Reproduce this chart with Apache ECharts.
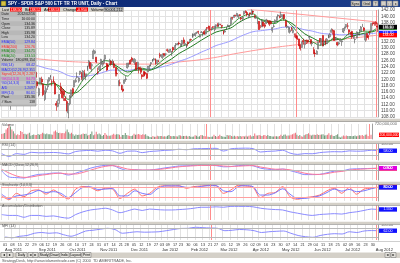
<!DOCTYPE html>
<html>
<head>
<meta charset="utf-8">
<script src="https://cdn.jsdelivr.net/npm/echarts@6/dist/echarts.min.js"></script>
<style>
html, body { margin: 0; padding: 0; background: #fff; }
#chart { width: 400px; height: 263px; }
</style>
</head>
<body>
<div id="chart"></div>
<script>
// SPY daily, Aug 2011 - Aug 2012

var holidays = ['2011-09-05', '2011-11-24', '2011-12-26', '2012-01-02', '2012-01-16',
    '2012-02-20', '2012-04-06', '2012-05-28', '2012-07-04'];

var opens = [
    130.3, 128.5, 125.2, 124.9, 121.3, 116.9, 113.1, 116.0, 113.4, 118.8, 119.4, 119.7, 120.2, 116.7, 113.0, 114.8, 113.4, 115.8, 118.0, 114.9, 118.8, 120.4, 122.0,
    122.2, 119.2, 115.0, 118.6, 120.0, 118.4, 113.6, 115.9, 117.6, 119.4, 120.6, 119.2, 119.9, 118.8, 112.3, 111.4, 113.2, 117.6, 116.3, 116.3, 113.9,
    112.9, 109.3, 112.2, 114.4, 117.0, 117.6, 119.2, 120.6, 119.4, 121.7, 121.9, 120.0, 122.2, 121.0, 123.0, 124.1, 125.3, 124.4, 126.5, 128.3, 127.0,
    122.1, 123.0, 124.6, 125.0, 125.2, 126.4, 124.9, 124.4, 124.9, 125.7, 124.7, 124.9, 123.7, 121.8, 119.0, 118.8, 118.1, 116.9, 118.7, 119.9, 123.6,
    124.8, 126.0, 126.7, 125.6, 125.5, 125.3, 123.6, 123.8, 123.4, 121.4, 122.4, 122.2, 121.8, 122.3, 124.2, 124.9, 125.7, 126.2, 126.5, 125.0, 125.8,
    127.8, 127.2, 127.0, 128.2, 128.0, 129.4, 128.5, 129.4, 128.6, 130.1, 129.3, 130.9, 131.2, 131.5, 130.6, 131.1, 132.5, 131.0, 130.1, 131.8,
    132.3, 132.6, 133.4, 133.9, 134.0, 134.7, 135.2, 133.4, 134.9, 134.3, 135.2, 134.4, 136.4, 136.9, 135.9, 135.8, 136.7, 135.8, 136.8, 137.4,
    137.3, 137.6, 137.1, 135.3, 135.0, 136.0, 137.0, 136.9, 137.6, 139.6, 139.6, 140.4, 140.2, 139.8, 140.5, 139.5, 139.3, 140.7, 141.6, 141.2, 139.6, 141.1,
    140.6, 141.6, 140.2, 139.4, 138.0, 138.4, 136.8, 136.6, 138.2, 137.3, 137.7, 138.6, 138.2, 138.3, 135.5, 136.8, 138.1, 138.7, 140.1, 139.9,
    139.8, 139.7, 140.6, 138.6, 136.5, 136.1, 135.0, 136.5, 134.9, 134.3, 134.0, 133.6, 132.8, 130.8, 130.1, 132.3, 131.0, 132.4, 132.4, 133.3, 132.6, 131.3,
    129.4, 128.3, 127.9, 129.6, 132.9, 131.0, 133.9, 131.4, 131.8, 131.3, 133.1, 133.5, 134.9, 135.5, 135.4, 132.6, 131.7, 131.2, 132.1, 131.9, 135.0,
    136.2, 136.6, 136.9, 135.7, 134.9, 135.2, 133.3, 132.6, 133.1, 134.4, 135.2, 135.3, 136.9, 136.3, 132.5, 134.5, 133.6, 135.1, 135.3, 137.7, 138.0,
    138.1, 136.9
];
var highs = [
    131.0, 128.8, 126.6, 125.0, 121.9, 117.8, 117.6, 116.8, 118.7, 120.0, 121.0, 120.5, 121.3, 116.8, 116.5, 115.2, 116.0, 117.8, 118.6, 117.9, 121.2, 122.1, 123.1,
    123.2, 119.5, 117.3, 120.5, 120.8, 118.7, 116.5, 117.8, 119.9, 120.6, 121.4, 120.0, 120.9, 119.4, 113.1, 113.6, 115.3, 118.9, 117.0, 116.8, 114.6,
    113.4, 112.4, 115.0, 116.7, 117.3, 119.6, 120.3, 122.2, 120.6, 122.6, 122.3, 122.9, 123.0, 121.7, 124.3, 126.1, 125.3, 125.1, 129.5, 129.2, 127.1,
    123.7, 124.4, 126.5, 125.6, 126.2, 127.8, 125.2, 124.6, 126.5, 126.0, 126.3, 125.8, 123.9, 122.2, 119.7, 119.9, 118.3, 118.2, 120.0, 121.1, 125.2,
    125.3, 126.4, 127.1, 126.6, 126.7, 125.5, 125.6, 123.9, 124.0, 121.6, 122.6, 122.5, 122.0, 124.2, 124.6, 125.4, 126.4, 126.8, 126.6, 126.2, 126.2,
    128.4, 127.9, 128.2, 128.2, 128.2, 129.7, 129.4, 129.6, 129.0, 130.3, 130.7, 131.5, 131.5, 132.0, 131.4, 132.5, 133.3, 131.7, 131.1, 132.0,
    132.8, 132.9, 134.6, 134.4, 134.9, 135.1, 135.4, 134.4, 135.3, 135.0, 135.6, 136.0, 136.5, 137.0, 136.3, 136.5, 136.8, 137.0, 137.4, 137.9,
    138.0, 137.6, 137.2, 135.6, 135.7, 136.6, 137.4, 137.1, 139.6, 139.8, 140.4, 140.4, 141.0, 140.5, 140.7, 139.7, 139.8, 141.6, 141.9, 141.3, 140.6, 141.1,
    142.2, 141.7, 140.5, 140.0, 139.3, 138.5, 137.2, 138.9, 138.2, 137.9, 139.2, 138.9, 138.8, 138.7, 136.6, 137.5, 139.0, 139.9, 140.6, 140.3,
    141.5, 140.6, 140.6, 138.6, 137.3, 136.8, 136.4, 136.6, 136.3, 134.6, 134.6, 133.9, 132.9, 131.1, 132.0, 132.9, 132.3, 132.6, 132.5, 133.8, 132.7, 132.0,
    130.2, 128.7, 129.2, 132.0, 133.1, 133.1, 134.0, 132.2, 132.9, 133.1, 134.2, 134.6, 136.2, 136.0, 135.5, 133.4, 131.9, 131.9, 133.0, 132.4, 136.3,
    136.7, 137.5, 137.9, 135.8, 135.0, 135.4, 134.0, 133.0, 135.2, 134.9, 135.9, 136.9, 137.6, 136.6, 134.4, 134.6, 134.1, 135.4, 137.8, 138.1, 138.1,
    138.4, 137.9
];
var lows = [
    127.0, 125.0, 123.6, 119.9, 116.6, 112.1, 110.3, 112.4, 113.0, 117.2, 118.9, 117.7, 118.6, 113.8, 112.0, 112.0, 113.1, 115.1, 115.7, 113.7, 118.8, 119.9, 121.2,
    120.4, 117.1, 114.5, 118.4, 118.4, 114.6, 113.1, 115.3, 116.6, 118.9, 119.8, 117.8, 118.8, 115.2, 110.0, 111.1, 112.2, 115.3, 113.9, 113.1, 113.1,
    109.8, 107.4, 111.7, 114.1, 114.8, 117.4, 118.9, 120.2, 118.9, 121.3, 119.7, 119.5, 120.6, 119.7, 122.6, 124.0, 123.1, 122.4, 126.4, 128.0, 125.1,
    121.5, 122.6, 122.6, 124.0, 124.6, 125.9, 122.6, 122.9, 124.8, 124.3, 124.4, 123.5, 120.9, 120.9, 117.8, 117.8, 116.5, 115.9, 118.6, 119.2, 123.4,
    123.8, 124.8, 125.4, 125.2, 124.6, 122.9, 123.5, 121.8, 121.6, 120.0, 120.7, 120.9, 120.0, 122.2, 122.8, 124.2, 125.4, 125.9, 124.6, 124.9, 125.4,
    126.7, 126.7, 126.4, 127.2, 127.4, 128.6, 128.4, 128.5, 127.4, 128.7, 129.2, 130.5, 130.8, 130.8, 130.2, 130.6, 131.0, 130.8, 129.8, 130.5,
    131.6, 132.1, 133.1, 133.6, 133.5, 134.3, 134.3, 133.3, 134.7, 133.6, 134.1, 134.2, 135.8, 135.5, 135.4, 135.5, 136.3, 135.2, 136.4, 136.6,
    136.6, 137.1, 136.2, 134.2, 134.8, 135.9, 136.6, 136.4, 137.1, 138.9, 139.6, 139.9, 140.0, 139.4, 140.0, 138.7, 138.5, 140.5, 141.0, 140.0, 139.4, 140.1,
    140.4, 140.6, 139.3, 139.2, 137.5, 135.7, 136.2, 136.6, 136.8, 136.3, 137.6, 138.1, 136.9, 137.4, 134.8, 136.4, 137.9, 138.4, 139.7, 139.4,
    139.6, 139.5, 138.8, 136.6, 136.2, 134.8, 134.5, 135.3, 134.6, 133.3, 133.0, 132.5, 130.6, 129.1, 130.0, 131.0, 129.8, 131.2, 131.5, 132.5, 131.1, 130.5,
    128.0, 127.1, 127.9, 129.6, 131.6, 130.7, 130.5, 130.5, 130.8, 131.2, 133.0, 133.2, 134.8, 134.2, 132.2, 132.3, 130.5, 130.8, 131.9, 130.6, 134.7,
    135.3, 136.6, 136.0, 134.2, 133.9, 132.8, 132.8, 131.4, 133.0, 134.0, 133.9, 135.1, 136.6, 135.2, 131.9, 132.3, 132.6, 134.1, 135.3, 137.0, 137.0,
    137.0, 135.0
];
var closes = [
    128.8, 125.5, 126.2, 120.0, 119.9, 112.3, 117.5, 112.6, 117.3, 118.5, 120.6, 119.6, 119.6, 114.2, 112.6, 112.6, 116.0, 117.6, 115.9, 117.7, 121.2, 121.5, 122.1,
    120.6, 117.9, 117.0, 120.4, 119.1, 115.1, 116.0, 117.0, 118.5, 120.5, 121.2, 119.2, 119.0, 115.3, 111.7, 112.4, 115.1, 116.4, 114.1, 115.1, 113.2,
    109.9, 112.3, 114.5, 116.6, 115.6, 119.6, 119.6, 120.8, 120.4, 122.6, 120.3, 122.6, 121.1, 121.7, 124.2, 125.8, 123.4, 124.6, 129.0, 128.9, 125.5,
    122.0, 124.0, 126.3, 125.5, 126.1, 127.6, 122.9, 124.0, 126.0, 124.9, 125.6, 123.7, 121.8, 121.7, 119.3, 118.8, 116.6, 116.3, 119.8, 120.1, 125.1,
    124.9, 124.9, 126.0, 126.1, 126.3, 123.1, 125.3, 123.2, 122.2, 120.8, 121.2, 121.6, 120.3, 124.2, 124.4, 125.3, 126.4, 126.5, 124.9, 126.1, 125.5,
    127.5, 127.7, 128.0, 127.7, 128.0, 129.1, 129.2, 129.5, 128.8, 129.3, 130.7, 131.3, 131.4, 131.3, 131.2, 132.3, 131.6, 131.4, 131.0, 131.3,
    132.4, 132.5, 134.4, 134.3, 134.6, 134.9, 135.1, 134.2, 135.0, 134.9, 134.4, 135.9, 136.2, 136.2, 135.8, 136.3, 136.5, 136.7, 137.3, 136.9,
    137.6, 137.3, 136.8, 134.3, 135.3, 136.5, 137.0, 137.0, 139.5, 139.5, 140.3, 140.3, 140.9, 140.4, 140.2, 139.2, 139.7, 141.6, 141.2, 140.5, 140.3, 140.8,
    141.8, 141.3, 139.9, 139.8, 138.2, 135.8, 136.7, 138.7, 136.9, 136.8, 138.9, 138.3, 137.5, 137.7, 136.4, 136.9, 138.8, 139.7, 140.4, 139.7,
    140.6, 140.4, 139.3, 136.9, 136.9, 136.4, 135.6, 135.8, 135.6, 134.1, 133.3, 132.8, 130.6, 129.7, 131.9, 131.9, 132.1, 132.2, 131.8, 133.6, 131.5, 131.5,
    128.2, 128.1, 128.9, 131.9, 131.8, 132.9, 130.6, 132.1, 131.2, 132.7, 134.1, 134.3, 135.6, 135.4, 132.3, 133.1, 130.9, 131.6, 132.8, 132.2, 136.1,
    136.5, 137.4, 136.9, 134.9, 134.6, 133.4, 133.6, 132.7, 135.0, 134.6, 135.6, 136.6, 137.0, 135.5, 134.3, 133.2, 133.3, 135.0, 137.7, 137.6, 137.7,
    137.6, 136.6
];
// volume, millions of shares
var volumes = [
    246, 270, 289, 460, 525, 717, 604, 460, 376, 260, 180, 225, 196, 388, 340, 246, 250, 222, 255, 300, 160, 195, 215,
    190, 190, 240, 205, 235, 300, 260, 230, 260, 225, 230, 220, 210, 360, 410, 330, 290, 300, 280, 290, 275,
    360, 460, 320, 250, 300, 230, 160, 220, 190, 200, 210, 230, 260, 240, 250, 170, 190, 240, 360, 185, 220,
    350, 230, 270, 215, 150, 195, 290, 200, 160, 160, 165, 200, 250, 200, 230, 225, 210, 110, 190, 190, 285,
    190, 165, 150, 140, 170, 250, 200, 215, 240, 220, 190, 230, 200, 230, 160, 135, 95, 80, 145, 110, 105,
    160, 130, 140, 150, 115, 135, 115, 160, 190, 150, 130, 145, 130, 130, 120, 175, 170, 130, 145, 150,
    160, 120, 150, 105, 110, 125, 175, 160, 110, 135, 190, 180, 150, 130, 120, 110, 100, 110, 115, 210,
    140, 110, 140, 210, 150, 120, 110, 100, 190, 170, 185, 150, 125, 155, 125, 140, 115, 150, 120, 140, 125, 160,
    120, 155, 175, 115, 140, 270, 170, 165, 190, 170, 145, 175, 190, 150, 190, 145, 150, 115, 120, 130,
    130, 120, 150, 210, 140, 200, 215, 155, 170, 170, 210, 230, 265, 300, 200, 150, 190, 135, 110, 180, 220, 245,
    280, 210, 170, 210, 210, 190, 230, 190, 200, 220, 230, 170, 175, 210, 280, 185, 200, 150, 150, 190, 225,
    110, 70, 120, 165, 130, 165, 150, 145, 140, 130, 140, 165, 130, 160, 185, 170, 190, 150, 200, 215, 150,
    150, 200
];

// indicator lines, sampled once a week (bar index -> value)
var sampleIdx = [0, 5, 10, 15, 20, 25, 30, 35, 40, 45, 50, 55, 60, 65, 70, 75, 80, 85, 90, 95,
    100, 105, 110, 115, 120, 125, 130, 135, 140, 145, 150, 155, 160, 165, 170, 175, 180, 185, 190, 195,
    200, 205, 210, 215, 220, 225, 230, 235, 240, 245, 250, 254];
var ema10 = [130.5, 123.5, 119.5, 116.3, 117.3, 119.0, 118.2, 118.8, 116.3, 113.6, 116.2, 119.8, 122.3, 124.6, 125.9, 125.3, 122.4, 121.0, 123.2, 123.5,
    122.9, 124.5, 126.5, 128.1, 130.1, 131.0, 132.6, 134.1, 135.3, 136.3, 136.4, 137.1, 139.2, 140.4, 140.8, 138.9, 138.0, 137.7, 139.3, 137.6,
    134.9, 132.3, 131.9, 130.8, 131.4, 133.2, 132.6, 134.5, 134.6, 135.3, 135.2, 136.4];
var ema20 = [131.5, 127.0, 123.5, 119.5, 118.5, 118.6, 118.3, 118.6, 117.5, 115.6, 115.7, 117.5, 119.8, 122.2, 124.0, 124.8, 123.5, 122.3, 122.8, 123.0,
    122.9, 123.7, 125.1, 126.5, 128.2, 129.5, 130.9, 132.4, 133.8, 135.0, 135.6, 136.3, 137.9, 139.2, 139.9, 139.0, 138.5, 138.2, 138.8, 138.1,
    136.4, 134.4, 133.2, 132.1, 132.0, 132.7, 132.6, 133.5, 134.0, 134.6, 135.0, 135.6];
var ema50 = [130.8, 128.8, 127.4, 125.7, 124.8, 124.2, 123.5, 123.0, 122.3, 121.2, 120.8, 120.9, 121.2, 121.7, 122.4, 122.9, 122.9, 122.8, 123.1, 123.2,
    123.3, 123.6, 124.1, 124.8, 125.7, 126.5, 127.5, 128.6, 129.6, 130.7, 131.4, 132.2, 133.3, 134.3, 135.1, 135.4, 135.7, 136.0, 136.5, 136.6,
    136.3, 135.7, 135.3, 134.7, 134.4, 134.3, 134.1, 134.2, 134.2, 134.3, 134.5, 134.7];
var ema200Idx = [0, 20, 40, 60, 80, 100, 120, 140, 160, 180, 200, 220, 240, 254];
var ema200 = [127.0, 126.6, 125.8, 125.3, 124.8, 124.8, 125.5, 126.6, 128.3, 129.8, 131.0, 132.2, 133.2, 134.0];
var trendIdx = [166, 254];
var trendVal = [142.3, 138.2];

var rsi = [40, 22, 40, 35, 48, 45, 46, 47, 44, 38, 53, 58, 60, 55, 61, 57, 42, 55, 56, 46,
    53, 56, 60, 62, 67, 64, 70, 71, 72, 73, 56, 70, 73, 74, 71, 50, 54, 56, 61, 43,
    35, 40, 39, 46, 50, 52, 51, 57, 55, 56, 61, 58];
var macd = [-0.5, -3.5, -3.8, -4.0, -3.0, -2.2, -2.0, -1.5, -1.6, -2.5, -1.6, -0.4, 0.9, 1.8, 2.3, 2.2, 0.8, -0.2, 0.2, -0.1,
    0.0, 0.4, 1.0, 1.5, 2.0, 2.1, 2.3, 2.4, 2.3, 2.2, 1.6, 1.7, 2.2, 2.3, 2.1, 0.9, 0.4, 0.1, 0.5, -0.3,
    -1.3, -2.3, -2.3, -2.2, -1.4, -0.6, -0.5, 0.4, 0.6, 0.7, 0.8, 0.9];
var macdSignal = [0.3, -1.5, -3.0, -3.7, -3.5, -2.8, -2.3, -1.8, -1.6, -2.0, -2.0, -1.2, -0.1, 1.0, 1.8, 2.2, 1.5, 0.5, 0.1, 0.0,
    0.0, 0.2, 0.6, 1.1, 1.6, 1.9, 2.1, 2.3, 2.3, 2.3, 2.0, 1.8, 1.9, 2.1, 2.2, 1.5, 0.9, 0.4, 0.4, 0.1,
    -0.7, -1.6, -2.1, -2.2, -1.8, -1.1, -0.7, -0.1, 0.3, 0.5, 0.7, 0.8];
var stochK = [30, 8, 45, 25, 60, 65, 40, 65, 35, 12, 70, 85, 80, 60, 75, 70, 15, 45, 70, 30,
    45, 80, 90, 88, 90, 75, 85, 88, 92, 90, 45, 65, 92, 88, 80, 20, 45, 50, 85, 25,
    10, 20, 25, 35, 60, 75, 45, 80, 40, 70, 75, 82];
var stochD = [40, 15, 30, 35, 45, 62, 50, 55, 45, 20, 50, 80, 83, 68, 70, 73, 30, 30, 60, 45,
    38, 70, 88, 89, 88, 80, 80, 86, 90, 90, 60, 55, 85, 90, 84, 35, 35, 48, 72, 40,
    15, 15, 22, 30, 50, 70, 58, 68, 55, 60, 72, 80];
// accumulation/distribution, billions of shares
var accDist = [0.80, 0.67, 0.67, 0.40, 0.67, 0.67, 0.53, 0.60, 0.40, 0.27, 0.80, 1.20, 1.47, 1.60, 1.73, 1.47, 1.07, 1.33, 1.60, 1.40,
    1.60, 1.53, 1.47, 1.47, 1.53, 1.60, 1.73, 1.87, 1.87, 1.93, 1.87, 2.00, 2.00, 2.00, 1.93, 1.73, 1.60, 1.53, 1.47, 1.20,
    1.00, 0.80, 0.67, 0.80, 0.87, 0.93, 0.87, 1.07, 1.20, 1.40, 1.60, 1.55];
var mfi = [20, 15, 25, 30, 45, 50, 45, 48, 35, 25, 40, 60, 65, 72, 78, 70, 45, 50, 55, 52,
    53, 55, 62, 70, 77, 78, 85, 82, 80, 78, 62, 65, 70, 68, 62, 50, 55, 58, 60, 45,
    30, 22, 18, 30, 38, 42, 40, 55, 50, 60, 63, 62];

var priceTicks = { min: 108, max: 142, step: 2 };
var markBars = [141, 253];
var priceOnlyMarkBar = 199;

// trading days
var dates = [];
(function () {
    var d = new Date(Date.UTC(2011, 7, 1));
    var end = Date.UTC(2012, 7, 2);
    while (d.getTime() <= end) {
        var s = d.toISOString().slice(0, 10);
        var wd = d.getUTCDay();
        if (wd > 0 && wd < 6 && holidays.indexOf(s) < 0) dates.push(s);
        d.setUTCDate(d.getUTCDate() + 1);
    }
})();

var monthNames = ['Jan', 'Feb', 'Mar', 'Apr', 'May', 'Jun', 'Jul', 'Aug', 'Sep', 'Oct', 'Nov', 'Dec'];
var weekStart = dates.map(function (s, i) {
    if (i === 0) return true;
    return new Date(s).getUTCDay() <= new Date(dates[i - 1]).getUTCDay();
});
var monthStart = dates.map(function (s, i) {
    return i === 0 || s.slice(0, 7) !== dates[i - 1].slice(0, 7);
});

function pairs(xs, ys) {
    return xs.map(function (x, i) { return [x, ys[i]]; });
}

var FONT = 'Liberation Sans';
var panels = [
    { top: 10, height: 107 },  // price
    { top: 124, height: 15 },  // volume
    { top: 144, height: 16 },  // rsi
    { top: 164, height: 16 },  // macd
    { top: 184, height: 17 },  // stochastic
    { top: 205, height: 15 },  // a/d
    { top: 225, height: 15 }   // mfi
];

var chart = echarts.init(document.getElementById('chart'));

var xAxes = panels.map(function (p, i) {
    return {
        type: 'category', gridIndex: i, data: dates, boundaryGap: true, position: 'bottom',
        axisLine: { show: false }, axisTick: { show: false },
        axisLabel: {
            show: i === 6, fontSize: 3.8, color: '#333', margin: 3, fontFamily: FONT,
            interval: function (idx) { return weekStart[idx]; },
            formatter: function (v) { return v.slice(8, 10); }
        },
        splitLine: {
            show: true,
            interval: function (idx) { return weekStart[idx]; },
            lineStyle: { color: '#e2e2e2', width: 1 }
        }
    };
});
xAxes.push({
    type: 'category', gridIndex: 6, data: dates, boundaryGap: true, position: 'bottom', offset: 5,
    axisLine: { show: false }, axisTick: { show: false }, splitLine: { show: false },
    axisLabel: {
        show: true, fontSize: 4, color: '#333', margin: 3, align: 'left', fontFamily: FONT,
        interval: function (idx) { return monthStart[idx]; },
        formatter: function (v) { return monthNames[+v.slice(5, 7) - 1] + ' ' + v.slice(0, 4); }
    }
});

function subAxis(i, min, max, topLabel) {
    return {
        type: 'value', gridIndex: i, position: 'right', min: min, max: max, interval: max - min,
        axisLine: { show: true, lineStyle: { color: '#a0a0a0' } }, axisTick: { show: false },
        splitLine: { show: false },
        axisLabel: {
            show: !!topLabel, fontSize: 4, color: '#666', margin: 3, fontFamily: FONT,
            formatter: function (v) { return v === max ? topLabel : ''; }
        }
    };
}

var yAxes = [{
    type: 'value', gridIndex: 0, position: 'right',
    min: priceTicks.min, max: priceTicks.max, interval: priceTicks.step,
    axisLine: { show: true, lineStyle: { color: '#a0a0a0' } }, axisTick: { show: false },
    splitLine: { show: true, lineStyle: { color: '#e2e2e2' } },
    axisLabel: { fontSize: 4.6, color: '#444', margin: 3, fontFamily: FONT, formatter: function (v) { return v.toFixed(2); } }
},
subAxis(1, 0, 720, '720,000,000'),
subAxis(2, 0, 100, '100.00'),
subAxis(3, -5, 3, ''),
subAxis(4, 0, 100, '100.00'),
subAxis(5, 0, 2.2, ''),
subAxis(6, 0, 100, '100.00')];

function vMarks(extraBars, levels, levelColor) {
    var data = [];
    markBars.concat(extraBars).forEach(function (b) {
        data.push({ xAxis: dates[b], lineStyle: { color: '#ff8c8c', type: 'solid', width: 1 } });
    });
    levels.forEach(function (v) {
        data.push({ yAxis: v, lineStyle: { color: levelColor, type: 'solid', width: 1 } });
    });
    return { symbol: 'none', silent: true, label: { show: false }, data: data, animation: false };
}

function line(name, x, y, xs, ys, color, extra) {
    var s = {
        name: name, type: 'line', xAxisIndex: x, yAxisIndex: y, data: pairs(xs, ys),
        symbol: 'none', smooth: 0.3, lineStyle: { color: color, width: 1 }, itemStyle: { color: color },
        silent: true, z: 3
    };
    for (var k in extra) s[k] = extra[k];
    return s;
}

var candles = dates.map(function (d, i) { return [opens[i], closes[i], lows[i], highs[i]]; });
var volBars = volumes.map(function (v, i) {
    return { value: v, itemStyle: { color: closes[i] >= opens[i] ? '#6f9a78' : '#f0707c' } };
});

var series = [
    line('EMA(200)', 0, 0, ema200Idx, ema200, '#ff9a9a', { smooth: 0.5 }),
    line('EMA(50)', 0, 0, sampleIdx, ema50, '#9a9aff', { smooth: 0.5 }),
    line('EMA(20)', 0, 0, sampleIdx, ema20, '#1e7a1e'),
    line('EMA(10)', 0, 0, sampleIdx, ema10, '#3c963c'),
    line('Trend', 0, 0, trendIdx, trendVal, '#ff9a9a', { smooth: false }),
    {
        name: 'SPY', type: 'candlestick', xAxisIndex: 0, yAxisIndex: 0, data: candles,
        barWidth: 1.4, clip: false, z: 5,
        itemStyle: { color: '#ffffff', color0: '#ff1a1a', borderColor: '#505050', borderColor0: '#c00000', borderWidth: 0.6 },
        markLine: vMarks([priceOnlyMarkBar], [], '#999')
    },
    {
        name: 'Volume', type: 'bar', xAxisIndex: 1, yAxisIndex: 1, data: volBars, barWidth: 1,
        markLine: vMarks([], [], '#999')
    },
    line('RSI', 2, 2, sampleIdx, rsi, '#8a8aff', { markLine: vMarks([], [30, 70], '#b8b8b8') }),
    line('MACD', 3, 3, sampleIdx, macd, '#8a8aff', { markLine: vMarks([], [0], '#b8b8b8') }),
    line('Signal', 3, 3, sampleIdx, macdSignal, '#ff7a9a'),
    line('%K', 4, 4, sampleIdx, stochK, '#ff7070', { markLine: vMarks([], [20, 80], '#ffa0a0') }),
    line('%D', 4, 4, sampleIdx, stochD, '#7878ff'),
    line('A/D', 5, 5, sampleIdx, accDist, '#8a8aff', { markLine: vMarks([], [], '#999') }),
    line('MFI', 6, 6, sampleIdx, mfi, '#8a8aff', { markLine: vMarks([], [20, 80], '#b8b8b8') })
];

// ---- window chrome (title bar, info row, data window, panel separators)
var g = [];
function rect(x, y, w, h, fill, stroke, z) {
    g.push({ type: 'rect', silent: true, z: z || 100, shape: { x: x, y: y, width: w, height: h },
        style: { fill: fill, stroke: stroke || null, lineWidth: stroke ? 0.6 : 0 } });
}
function text(x, y, s, color, size, align, bold, z) {
    g.push({ type: 'text', silent: true, z: z || 102, x: x, y: y,
        style: { text: s, fill: color, font: (bold ? 'bold ' : '') + size + 'px ' + FONT, align: align || 'left', verticalAlign: 'middle' } });
}

// title bar
g.push({ type: 'rect', silent: true, z: 100, shape: { x: 0, y: 0, width: 400, height: 7 },
    style: { fill: new echarts.graphic.LinearGradient(0, 0, 1, 0, [{ offset: 0, color: '#0a2470' }, { offset: 1, color: '#1c3f8c' }]) } });
rect(1, 1, 5, 5, '#d8c040', '#405020', 101);
text(8, 3.6, 'SPY - SPDR S&P 500 ETF TR TR UNIT, Daily - Chart', '#ffffff', 4.5, 'left', true);
[[351, 9, 'Sync'], [362, 9, 'Grid'], [373, 5, '?'], [381, 5, '_'], [387, 5, '\u25a1'], [393, 5, 'x']].forEach(function (b) {
    rect(b[0], 1, b[1], 5, '#d4d0c8', '#808080', 101);
    text(b[0] + b[1] / 2, 3.6, b[2], '#000', 3.5, 'center');
});

// info row
rect(0, 7, 124, 5, '#d4d0c8', null, 100);
[[1, 'Last', 10, '138.50'], [24, 'Bid', 29, '138.52'], [43, 'Ask', 48, '138.53'], [62, 'Change', 76, '-0.950']].forEach(function (r) {
    text(r[0] + 1, 9.6, r[1], '#000', 3.8);
    rect(r[2], 7.5, 12, 4, '#ff0000', null, 101);
    text(r[2] + 6, 9.6, r[3], '#fff', 3.6, 'center');
});
text(91, 9.6, 'Volume', '#000', 3.8);
rect(104, 7.5, 19, 4, '#c0c0c0', '#909090', 101);
text(113.5, 9.6, '90,001,212', '#000', 3.6, 'center');

// data window
rect(0, 12, 36, 94, '#bdbdbd', '#909090', 100);
var rows = [
    ['Date', '2012/02/16', '#202020'], ['Time', '16:00:00', '#202020'], ['Open', '134.36', '#202020'],
    ['Close', '135.89', '#202020'], ['High', '135.98', '#202020'], ['Low', '134.20', '#202020'],
    ['EMA(50)', '129.84', '#2a2aff'], ['EMA(200)', '126.76', '#ff2a2a'], ['EMA(10)', '134.71', '#1a8a1a'],
    ['EMA(20)', '133.53', '#1a8a1a'], ['Volume', '180,098,154', '#202020'], ['RSI(14)', '68.42', '#2a2aff'],
    ['MACD(12,26,9)', '2.351', '#2a2aff'], ['Signal(12,26,9)', '2.287', '#ff2a2a'], ['%K(14,3,3)', '84.73', '#e020e0'],
    ['%D(14,3,3)', '88.12', '#2a2aff'], ['A/D', '1.2097', '#2a2aff'], ['MFI(14)', '80.61', '#2a2aff'],
    ['Pivot', '135.36', '#202020'], ['# Bars', '138', '#202020']
];
rows.forEach(function (r, i) {
    var y = 14.5 + i * 4.6;
    rect(0.5, y - 2.2, 35, 4.4, i % 2 ? '#c4c4c4' : '#b8b8b8', null, 100);
    text(1.5, y, r[0], r[2], 3.5);
    text(35, y, r[1], r[2], 3.5, 'right');
});

// separators between panels
[[117.5, 3.5], [139.5, 3], [160.5, 3], [180.5, 3], [201.5, 3], [220.5, 3]].forEach(function (s) {
    rect(0, s[0] + 1, 400, s[1], '#d4d0c8', null, 99);
    rect(0, s[0] + 1, 400, 0.6, '#ffffff', null, 99);
    rect(0, s[0] + s[1] + 0.4, 400, 0.6, '#808080', null, 99);
});
rect(0, 241, 400, 0.6, '#a0a0a0', null, 99);

// panel captions
[[124.5, 'Volume'], [144.5, 'RSI (14)'], [164.5, 'MACD (Close,12,26,9)'], [185, 'Stochastic (14,3,3)'],
 [205.5, 'Accumulation/Distribution'], [225.5, 'MFI (14)']].forEach(function (c) {
    text(2, c[0], c[1], '#555', 3.6);
});

// bottom tool bar and footer
rect(0, 252, 400, 6, '#d4d0c8', null, 100);
rect(0, 252, 400, 0.6, '#ffffff', null, 100);
[[1, 6, '\u25c4'], [7, 6, '\u25ba'], [16, 11, 'Daily'], [28, 5, '\u25c4'], [33, 5, '\u25ba'],
 [39, 10, 'Study'], [50, 9, 'Draw'], [60, 9, 'Indic'], [70, 11, 'Layout'], [82, 9, 'Print']].forEach(function (b) {
    rect(b[0], 252.5, b[1], 5, '#e4e2dc', '#808080', 101);
    text(b[0] + b[1] / 2, 255.1, b[2], '#000', 3.4, 'center');
});
rect(385, 252.5, 5, 5, '#e4e2dc', '#808080', 101);
rect(391, 252.5, 5, 5, '#e4e2dc', '#808080', 101);
text(387.5, 255.1, '\u25c4', '#000', 3.4, 'center');
text(393.5, 255.1, '\u25ba', '#000', 3.4, 'center');
rect(0, 258, 400, 5, '#ffffff', null, 100);
text(2, 260.5, 'StrategyDesk, http://www.tdameritrade.com (C) 2000  TD AMERITRADE, Inc.', '#555', 3.8);

chart.setOption({
    animation: false,
    backgroundColor: '#ffffff',
    textStyle: { fontFamily: FONT },
    grid: panels.map(function (p) { return { left: 1, right: 22, top: p.top, height: p.height, show: false }; }),
    xAxis: xAxes,
    yAxis: yAxes,
    series: series,
    graphic: { elements: g }
});

// value boxes on the right axis, placed with the chart's own scales
var last = dates.length - 1;
var boxes = [
    [0, ema10[ema10.length - 1], '#1a8a1a', ema10[ema10.length - 1].toFixed(2)],
    [0, closes[last], '#000000', closes[last].toFixed(2)],
    [0, ema50[ema50.length - 1], '#2020ff', ema50[ema50.length - 1].toFixed(2)],
    [0, ema200[ema200.length - 1], '#ff0000', ema200[ema200.length - 1].toFixed(2)],
    [2, rsi[rsi.length - 1], '#1010ff', rsi[rsi.length - 1].toFixed(2)],
    [3, macdSignal[macdSignal.length - 1], '#ff0000', macdSignal[macdSignal.length - 1].toFixed(3)],
    [3, macd[macd.length - 1], '#e000e0', macd[macd.length - 1].toFixed(3)],
    [4, stochK[stochK.length - 1], '#ff0000', stochK[stochK.length - 1].toFixed(2)],
    [4, stochD[stochD.length - 1], '#1010ff', stochD[stochD.length - 1].toFixed(2)],
    [5, accDist[accDist.length - 1], '#1010ff', accDist[accDist.length - 1].toFixed(3)],
    [6, mfi[mfi.length - 1], '#1010ff', mfi[mfi.length - 1].toFixed(2)]
];
var extra = [];
boxes.forEach(function (b, i) {
    var p = chart.convertToPixel({ xAxisIndex: b[0], yAxisIndex: b[0] }, [last, b[1]]);
    extra.push({ type: 'rect', id: 'vb' + i, silent: true, z: 110, shape: { x: 379, y: p[1] - 2.2, width: 18, height: 4.4 }, style: { fill: b[2] } });
    extra.push({ type: 'text', id: 'vt' + i, silent: true, z: 111, x: 388, y: p[1], style: { text: b[3], fill: '#fff', font: '3.6px ' + FONT, align: 'center', verticalAlign: 'middle' } });
});
var pv = chart.convertToPixel({ xAxisIndex: 1, yAxisIndex: 1 }, [last, volumes[last]]);
extra.push({ type: 'rect', id: 'vbv', silent: true, z: 110, shape: { x: 379, y: pv[1] - 2.2, width: 20, height: 4.4 }, style: { fill: '#ff0000' } });
extra.push({ type: 'text', id: 'vtv', silent: true, z: 111, x: 389, y: pv[1], style: { text: (volumes[last] * 1e6).toLocaleString('en-US'), fill: '#fff', font: '3.4px ' + FONT, align: 'center', verticalAlign: 'middle' } });

chart.setOption({ graphic: { elements: extra } });
</script>
</body>
</html>
